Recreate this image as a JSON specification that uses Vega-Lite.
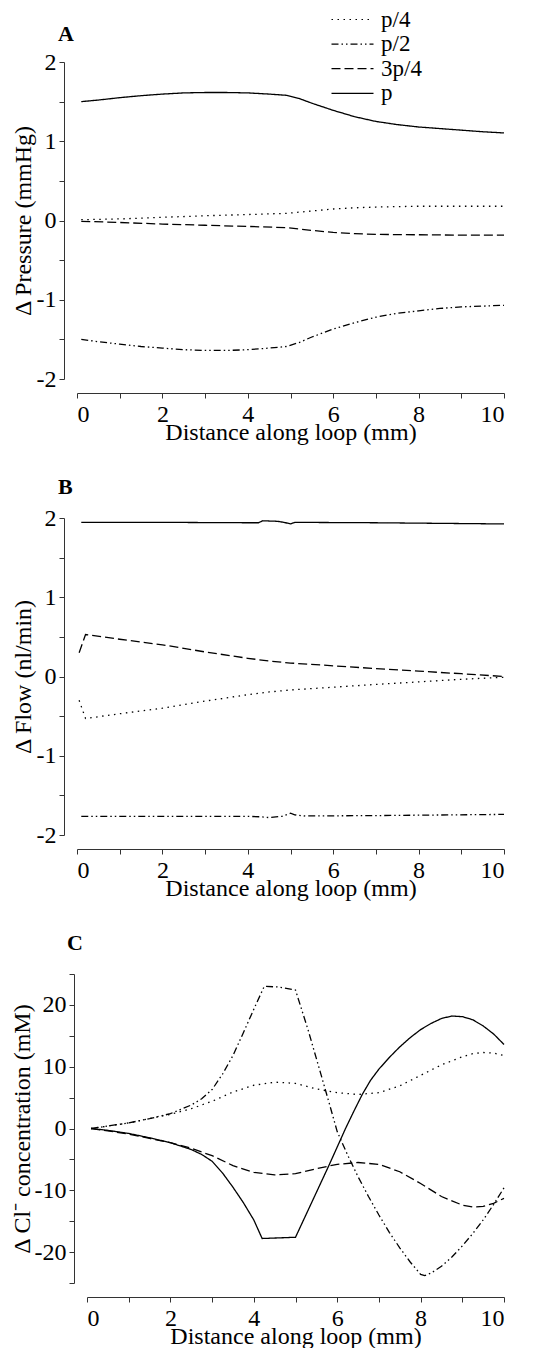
{
  "$schema": "https://vega.github.io/schema/vega-lite/v6.json",
  "padding": {"left": 10, "top": 8, "right": 0, "bottom": 0},
  "background": "white",
  "bounds": "flush",
  "spacing": 139,
  "config": {
    "view": {"stroke": null},
    "font": "Liberation Serif",
    "axis": {
      "grid": false,
      "domainColor": "#333333",
      "tickColor": "#333333",
      "domainWidth": 1,
      "tickWidth": 1,
      "tickSize": 5,
      "labelFont": "Liberation Serif",
      "labelFontSize": 24,
      "labelColor": "black",
      "labelPadding": 4,
      "titleFont": "Liberation Serif",
      "titleFontSize": 24,
      "titleFontWeight": "normal",
      "titleColor": "black"
    },
    "axisX": {"titlePadding": -6, "offset": 14},
    "axisY": {"titlePadding": 1, "labelPadding": 3}
  },
  "datasets": {
    "A": [
      {"x": 0.1, "y": 1.50, "s": "p"}, {"x": 0.5, "y": 1.52, "s": "p"}, {"x": 1, "y": 1.55, "s": "p"}, {"x": 1.5, "y": 1.575, "s": "p"}, {"x": 2, "y": 1.595, "s": "p"}, {"x": 2.5, "y": 1.61, "s": "p"}, {"x": 3, "y": 1.615, "s": "p"}, {"x": 3.5, "y": 1.615, "s": "p"}, {"x": 4, "y": 1.61, "s": "p"}, {"x": 4.5, "y": 1.595, "s": "p"}, {"x": 4.9, "y": 1.58, "s": "p"}, {"x": 5.2, "y": 1.54, "s": "p"}, {"x": 5.5, "y": 1.48, "s": "p"}, {"x": 6, "y": 1.39, "s": "p"}, {"x": 6.5, "y": 1.31, "s": "p"}, {"x": 7, "y": 1.25, "s": "p"}, {"x": 7.5, "y": 1.21, "s": "p"}, {"x": 8, "y": 1.18, "s": "p"}, {"x": 8.5, "y": 1.16, "s": "p"}, {"x": 9, "y": 1.14, "s": "p"}, {"x": 9.5, "y": 1.12, "s": "p"}, {"x": 10, "y": 1.105, "s": "p"},
      {"x": 0.1, "y": -1.50, "s": "p/2"}, {"x": 0.5, "y": -1.53, "s": "p/2"}, {"x": 1, "y": -1.56, "s": "p/2"}, {"x": 1.5, "y": -1.59, "s": "p/2"}, {"x": 2, "y": -1.61, "s": "p/2"}, {"x": 2.5, "y": -1.63, "s": "p/2"}, {"x": 3, "y": -1.64, "s": "p/2"}, {"x": 3.5, "y": -1.64, "s": "p/2"}, {"x": 4, "y": -1.63, "s": "p/2"}, {"x": 4.5, "y": -1.61, "s": "p/2"}, {"x": 4.9, "y": -1.59, "s": "p/2"}, {"x": 5.2, "y": -1.54, "s": "p/2"}, {"x": 5.5, "y": -1.47, "s": "p/2"}, {"x": 6, "y": -1.37, "s": "p/2"}, {"x": 6.5, "y": -1.29, "s": "p/2"}, {"x": 7, "y": -1.22, "s": "p/2"}, {"x": 7.5, "y": -1.17, "s": "p/2"}, {"x": 8, "y": -1.14, "s": "p/2"}, {"x": 8.5, "y": -1.11, "s": "p/2"}, {"x": 9, "y": -1.09, "s": "p/2"}, {"x": 9.5, "y": -1.08, "s": "p/2"}, {"x": 10, "y": -1.07, "s": "p/2"},
      {"x": 0.1, "y": 0.01, "s": "p/4"}, {"x": 1, "y": 0.02, "s": "p/4"}, {"x": 2, "y": 0.04, "s": "p/4"}, {"x": 3, "y": 0.06, "s": "p/4"}, {"x": 4, "y": 0.075, "s": "p/4"}, {"x": 4.9, "y": 0.09, "s": "p/4"}, {"x": 5.5, "y": 0.12, "s": "p/4"}, {"x": 6, "y": 0.145, "s": "p/4"}, {"x": 6.5, "y": 0.16, "s": "p/4"}, {"x": 7, "y": 0.17, "s": "p/4"}, {"x": 8, "y": 0.18, "s": "p/4"}, {"x": 9, "y": 0.18, "s": "p/4"}, {"x": 10, "y": 0.18, "s": "p/4"},
      {"x": 0.1, "y": -0.01, "s": "3p/4"}, {"x": 1, "y": -0.025, "s": "3p/4"}, {"x": 2, "y": -0.045, "s": "3p/4"}, {"x": 3, "y": -0.06, "s": "3p/4"}, {"x": 4, "y": -0.075, "s": "3p/4"}, {"x": 4.9, "y": -0.09, "s": "3p/4"}, {"x": 5.5, "y": -0.125, "s": "3p/4"}, {"x": 6, "y": -0.15, "s": "3p/4"}, {"x": 6.5, "y": -0.165, "s": "3p/4"}, {"x": 7, "y": -0.175, "s": "3p/4"}, {"x": 8, "y": -0.18, "s": "3p/4"}, {"x": 9, "y": -0.185, "s": "3p/4"}, {"x": 10, "y": -0.185, "s": "3p/4"}
    ],
    "B": [
      {"x": 0.1, "y": 1.945, "s": "p"}, {"x": 2, "y": 1.945, "s": "p"}, {"x": 4, "y": 1.94, "s": "p"}, {"x": 4.25, "y": 1.94, "s": "p"}, {"x": 4.35, "y": 1.965, "s": "p"}, {"x": 4.7, "y": 1.958, "s": "p"}, {"x": 4.85, "y": 1.945, "s": "p"}, {"x": 5.0, "y": 1.925, "s": "p"}, {"x": 5.1, "y": 1.945, "s": "p"}, {"x": 7, "y": 1.94, "s": "p"}, {"x": 10, "y": 1.925, "s": "p"},
      {"x": 0.1, "y": -1.765, "s": "p/2"}, {"x": 2, "y": -1.765, "s": "p/2"}, {"x": 4, "y": -1.765, "s": "p/2"}, {"x": 4.3, "y": -1.77, "s": "p/2"}, {"x": 4.5, "y": -1.78, "s": "p/2"}, {"x": 4.8, "y": -1.765, "s": "p/2"}, {"x": 5.0, "y": -1.725, "s": "p/2"}, {"x": 5.1, "y": -1.745, "s": "p/2"}, {"x": 5.3, "y": -1.76, "s": "p/2"}, {"x": 7, "y": -1.755, "s": "p/2"}, {"x": 10, "y": -1.74, "s": "p/2"},
      {"x": 0.05, "y": 0.30, "s": "3p/4"}, {"x": 0.2, "y": 0.53, "s": "3p/4"}, {"x": 1, "y": 0.47, "s": "3p/4"}, {"x": 2, "y": 0.40, "s": "3p/4"}, {"x": 3, "y": 0.31, "s": "3p/4"}, {"x": 4, "y": 0.23, "s": "3p/4"}, {"x": 4.5, "y": 0.195, "s": "3p/4"}, {"x": 5, "y": 0.17, "s": "3p/4"}, {"x": 6, "y": 0.135, "s": "3p/4"}, {"x": 7, "y": 0.10, "s": "3p/4"}, {"x": 8, "y": 0.068, "s": "3p/4"}, {"x": 9, "y": 0.035, "s": "3p/4"}, {"x": 10, "y": 0.0, "s": "3p/4"},
      {"x": 0.05, "y": -0.30, "s": "p/4"}, {"x": 0.2, "y": -0.53, "s": "p/4"}, {"x": 1, "y": -0.47, "s": "p/4"}, {"x": 2, "y": -0.40, "s": "p/4"}, {"x": 3, "y": -0.31, "s": "p/4"}, {"x": 4, "y": -0.23, "s": "p/4"}, {"x": 4.5, "y": -0.195, "s": "p/4"}, {"x": 5, "y": -0.17, "s": "p/4"}, {"x": 6, "y": -0.135, "s": "p/4"}, {"x": 7, "y": -0.10, "s": "p/4"}, {"x": 8, "y": -0.068, "s": "p/4"}, {"x": 9, "y": -0.035, "s": "p/4"}, {"x": 10, "y": -0.01, "s": "p/4"}
    ],
    "C": [
      {"x": 0.1, "y": 0, "s": "p"}, {"x": 0.5, "y": -0.3, "s": "p"}, {"x": 1.0, "y": -0.8, "s": "p"}, {"x": 1.5, "y": -1.5, "s": "p"}, {"x": 2.0, "y": -2.3, "s": "p"}, {"x": 2.5, "y": -3.4, "s": "p"}, {"x": 2.75, "y": -4.2, "s": "p"}, {"x": 3.0, "y": -5.3, "s": "p"}, {"x": 3.25, "y": -7.2, "s": "p"}, {"x": 3.5, "y": -9.5, "s": "p"}, {"x": 3.75, "y": -12.0, "s": "p"}, {"x": 4.0, "y": -14.8, "s": "p"}, {"x": 4.2, "y": -17.8, "s": "p"}, {"x": 4.6, "y": -17.7, "s": "p"}, {"x": 5.0, "y": -17.6, "s": "p"}, {"x": 5.4, "y": -11.8, "s": "p"}, {"x": 5.8, "y": -6.0, "s": "p"}, {"x": 6.2, "y": 0.0, "s": "p"}, {"x": 6.4, "y": 2.8, "s": "p"}, {"x": 6.6, "y": 5.5, "s": "p"}, {"x": 6.8, "y": 7.8, "s": "p"}, {"x": 7.0, "y": 9.6, "s": "p"}, {"x": 7.25, "y": 11.5, "s": "p"}, {"x": 7.5, "y": 13.2, "s": "p"}, {"x": 7.75, "y": 14.7, "s": "p"}, {"x": 8.0, "y": 16.0, "s": "p"}, {"x": 8.25, "y": 17.0, "s": "p"}, {"x": 8.5, "y": 17.8, "s": "p"}, {"x": 8.75, "y": 18.2, "s": "p"}, {"x": 9.0, "y": 18.1, "s": "p"}, {"x": 9.25, "y": 17.6, "s": "p"}, {"x": 9.5, "y": 16.6, "s": "p"}, {"x": 9.75, "y": 15.3, "s": "p"}, {"x": 10.0, "y": 13.6, "s": "p"},
      {"x": 0.1, "y": 0, "s": "3p/4"}, {"x": 0.5, "y": -0.4, "s": "3p/4"}, {"x": 1.0, "y": -0.9, "s": "3p/4"}, {"x": 1.5, "y": -1.6, "s": "3p/4"}, {"x": 2.0, "y": -2.3, "s": "3p/4"}, {"x": 2.5, "y": -3.2, "s": "3p/4"}, {"x": 3.0, "y": -4.4, "s": "3p/4"}, {"x": 3.5, "y": -6.0, "s": "3p/4"}, {"x": 4.0, "y": -7.1, "s": "3p/4"}, {"x": 4.5, "y": -7.5, "s": "3p/4"}, {"x": 5.0, "y": -7.3, "s": "3p/4"}, {"x": 5.5, "y": -6.5, "s": "3p/4"}, {"x": 6.0, "y": -5.8, "s": "3p/4"}, {"x": 6.5, "y": -5.5, "s": "3p/4"}, {"x": 7.0, "y": -5.8, "s": "3p/4"}, {"x": 7.5, "y": -7.0, "s": "3p/4"}, {"x": 8.0, "y": -8.9, "s": "3p/4"}, {"x": 8.5, "y": -11.0, "s": "3p/4"}, {"x": 9.0, "y": -12.4, "s": "3p/4"}, {"x": 9.25, "y": -12.7, "s": "3p/4"}, {"x": 9.5, "y": -12.6, "s": "3p/4"}, {"x": 9.75, "y": -12.1, "s": "3p/4"}, {"x": 10.0, "y": -11.3, "s": "3p/4"},
      {"x": 0.1, "y": 0, "s": "p/4"}, {"x": 0.5, "y": 0.4, "s": "p/4"}, {"x": 1.0, "y": 0.9, "s": "p/4"}, {"x": 1.5, "y": 1.6, "s": "p/4"}, {"x": 2.0, "y": 2.3, "s": "p/4"}, {"x": 2.5, "y": 3.2, "s": "p/4"}, {"x": 3.0, "y": 4.4, "s": "p/4"}, {"x": 3.5, "y": 5.9, "s": "p/4"}, {"x": 4.0, "y": 7.0, "s": "p/4"}, {"x": 4.5, "y": 7.5, "s": "p/4"}, {"x": 5.0, "y": 7.3, "s": "p/4"}, {"x": 5.5, "y": 6.4, "s": "p/4"}, {"x": 6.0, "y": 5.8, "s": "p/4"}, {"x": 6.5, "y": 5.5, "s": "p/4"}, {"x": 7.0, "y": 5.8, "s": "p/4"}, {"x": 7.5, "y": 6.9, "s": "p/4"}, {"x": 8.0, "y": 8.6, "s": "p/4"}, {"x": 8.5, "y": 10.3, "s": "p/4"}, {"x": 9.0, "y": 11.6, "s": "p/4"}, {"x": 9.25, "y": 12.1, "s": "p/4"}, {"x": 9.5, "y": 12.3, "s": "p/4"}, {"x": 9.75, "y": 12.2, "s": "p/4"}, {"x": 10.0, "y": 11.8, "s": "p/4"},
      {"x": 0.1, "y": 0, "s": "p/2"}, {"x": 0.5, "y": 0.4, "s": "p/2"}, {"x": 1.0, "y": 0.9, "s": "p/2"}, {"x": 1.5, "y": 1.6, "s": "p/2"}, {"x": 2.0, "y": 2.4, "s": "p/2"}, {"x": 2.5, "y": 3.8, "s": "p/2"}, {"x": 2.75, "y": 4.8, "s": "p/2"}, {"x": 3.0, "y": 6.3, "s": "p/2"}, {"x": 3.25, "y": 8.8, "s": "p/2"}, {"x": 3.5, "y": 11.8, "s": "p/2"}, {"x": 3.75, "y": 15.5, "s": "p/2"}, {"x": 4.0, "y": 19.3, "s": "p/2"}, {"x": 4.25, "y": 23.0, "s": "p/2"}, {"x": 4.6, "y": 22.9, "s": "p/2"}, {"x": 5.0, "y": 22.4, "s": "p/2"}, {"x": 5.3, "y": 16.0, "s": "p/2"}, {"x": 5.6, "y": 9.0, "s": "p/2"}, {"x": 5.8, "y": 4.3, "s": "p/2"}, {"x": 6.0, "y": -0.5, "s": "p/2"}, {"x": 6.25, "y": -4.3, "s": "p/2"}, {"x": 6.5, "y": -7.8, "s": "p/2"}, {"x": 6.75, "y": -11.0, "s": "p/2"}, {"x": 7.0, "y": -14.0, "s": "p/2"}, {"x": 7.25, "y": -16.8, "s": "p/2"}, {"x": 7.5, "y": -19.3, "s": "p/2"}, {"x": 7.75, "y": -21.6, "s": "p/2"}, {"x": 8.0, "y": -23.6, "s": "p/2"}, {"x": 8.1, "y": -23.8, "s": "p/2"}, {"x": 8.25, "y": -23.4, "s": "p/2"}, {"x": 8.5, "y": -22.3, "s": "p/2"}, {"x": 8.75, "y": -20.8, "s": "p/2"}, {"x": 9.0, "y": -19.0, "s": "p/2"}, {"x": 9.25, "y": -17.0, "s": "p/2"}, {"x": 9.5, "y": -14.8, "s": "p/2"}, {"x": 9.75, "y": -12.3, "s": "p/2"}, {"x": 10.0, "y": -9.6, "s": "p/2"}
    ]
  },
  "resolve": {
    "scale": {"strokeDash": "independent", "x": "independent", "y": "independent"},
    "legend": {"strokeDash": "independent"}
  },
  "vconcat": [
    {
      "width": 427,
      "height": 317,
      "title": {"text": "A", "anchor": "start", "frame": "group", "dx": -19, "offset": -55, "baseline": "alphabetic", "font": "Liberation Serif", "fontSize": 22, "fontWeight": "bold", "color": "black"},
      "data": {"name": "A"},
      "mark": {"type": "line", "color": "black", "strokeWidth": 1.3},
      "encoding": {
        "x": {"field": "x", "type": "quantitative", "scale": {"domain": [0, 10], "nice": false, "zero": false},
          "axis": {"title": "Distance along loop (mm)", "values": [0, 1, 2, 3, 4, 5, 6, 7, 8, 9, 10], "labelExpr": "datum.value % 2 === 0 ? '' + datum.value : ''"}},
        "y": {"field": "y", "type": "quantitative", "scale": {"domain": [-2, 2], "nice": false},
          "axis": {"title": "Δ Pressure (mmHg)", "offset": 13, "values": [-2, -1.5, -1, -0.5, 0, 0.5, 1, 1.5, 2], "labelExpr": "datum.value % 1 === 0 ? '' + datum.value : ''"}},
        "strokeDash": {"field": "s", "type": "nominal",
          "scale": {"domain": ["p/4", "p/2", "3p/4", "p"], "range": [[1.5, 4.5], [7, 3, 1.5, 3, 1.5, 3], [9, 4], [1, 0]]},
          "legend": {"title": null, "orient": "none", "legendX": 264, "legendY": -54, "padding": 0,
            "symbolType": "M-4.2,0H4.2", "symbolSize": 100, "symbolStrokeWidth": 1.2, "symbolStrokeColor": "black", "symbolFillColor": "transparent",
            "labelFont": "Liberation Serif", "labelFontSize": 23, "labelColor": "black", "labelOffset": 17, "rowPadding": 0.6}}
      }
    },
    {
      "width": 427,
      "height": 317,
      "title": {"text": "B", "anchor": "start", "frame": "group", "dx": -19, "offset": -10, "baseline": "alphabetic", "font": "Liberation Serif", "fontSize": 22, "fontWeight": "bold", "color": "black"},
      "data": {"name": "B"},
      "mark": {"type": "line", "color": "black", "strokeWidth": 1.3},
      "encoding": {
        "x": {"field": "x", "type": "quantitative", "scale": {"domain": [0, 10], "nice": false, "zero": false},
          "axis": {"title": "Distance along loop (mm)", "values": [0, 1, 2, 3, 4, 5, 6, 7, 8, 9, 10], "labelExpr": "datum.value % 2 === 0 ? '' + datum.value : ''"}},
        "y": {"field": "y", "type": "quantitative", "scale": {"domain": [-2, 2], "nice": false},
          "axis": {"title": "Δ Flow (nl/min)", "offset": 13, "values": [-2, -1.5, -1, -0.5, 0, 0.5, 1, 1.5, 2], "labelExpr": "datum.value % 1 === 0 ? '' + datum.value : ''"}},
        "strokeDash": {"field": "s", "type": "nominal",
          "scale": {"domain": ["p/4", "p/2", "3p/4", "p"], "range": [[1.5, 4.5], [7, 3, 1.5, 3, 1.5, 3], [9, 4], [1, 0]]},
          "legend": null}
      }
    },
    {
      "width": 427,
      "height": 309,
      "title": {"text": "C", "anchor": "start", "frame": "group", "dx": -10, "offset": 2, "baseline": "alphabetic", "font": "Liberation Serif", "fontSize": 22, "fontWeight": "bold", "color": "black"},
      "data": {"name": "C"},
      "mark": {"type": "line", "color": "black", "strokeWidth": 1.3},
      "encoding": {
        "x": {"field": "x", "type": "quantitative", "scale": {"domain": [0, 10], "nice": false, "zero": false, "range": [10, 427]},
          "axis": {"title": "Distance along loop (mm)", "values": [0, 1, 2, 3, 4, 5, 6, 7, 8, 9, 10], "labelExpr": "datum.value % 2 === 0 ? '' + datum.value : ''"}},
        "y": {"field": "y", "type": "quantitative", "scale": {"domain": [-25, 25], "nice": false},
          "axis": {"title": "Δ Cl⁻ concentration (mM)", "offset": 3, "titlePadding": 0, "values": [-25, -20, -15, -10, -5, 0, 5, 10, 15, 20, 25], "labelExpr": "datum.value % 10 === 0 ? '' + datum.value : ''"}},
        "strokeDash": {"field": "s", "type": "nominal",
          "scale": {"domain": ["p/4", "p/2", "3p/4", "p"], "range": [[1.5, 4.5], [7, 3, 1.5, 3, 1.5, 3], [9, 4], [1, 0]]},
          "legend": null}
      }
    }
  ]
}
